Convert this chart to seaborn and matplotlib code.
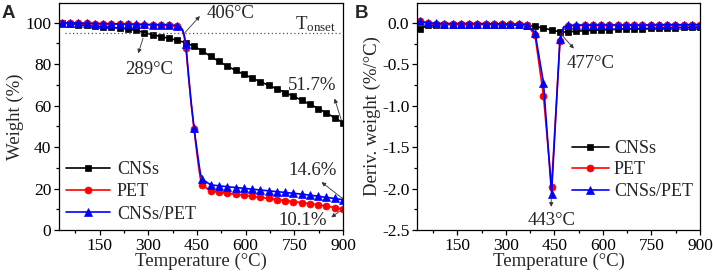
import numpy as np
import pandas as pd
import matplotlib
matplotlib.use("Agg")
import matplotlib.pyplot as plt
from matplotlib.ticker import MultipleLocator
import seaborn as sns

# ---------------- data ----------------
# marker temperatures (°C)
marker_temps = [33, 59, 84, 110, 135, 161, 186, 212, 237, 263, 288, 314, 339, 365,
                390, 416, 441, 467, 492, 518, 543, 569, 594, 620, 645, 671, 696,
                722, 747, 773, 798, 824, 849, 875, 900]

# Panel A: TGA weight (%)
temp_cns_a = marker_temps
weight_cns = [100.0, 99.4, 99.0, 98.7, 98.4, 98.1, 97.8, 97.4, 96.9, 96.3, 95.2,
              94.2, 93.3, 92.4, 91.5, 90.3, 88.6, 86.3, 83.8, 81.3, 79.1, 77.0,
              75.1, 73.3, 71.5, 69.8, 68.1, 66.3, 64.5, 62.6, 60.6, 58.6, 56.4,
              54.1, 51.7]

temp_pet_a = [33, 59, 84, 110, 135, 161, 186, 212, 237, 263, 288, 314, 339, 365,
              390, 400, 406, 411, 416, 424, 432, 441, 449, 456, 461, 467, 492, 518,
              543, 569, 594, 620, 645, 671, 696, 722, 747, 773, 798, 824, 849, 875, 900]
weight_pet = [100.0, 99.9, 99.8, 99.7, 99.6, 99.5, 99.4, 99.3, 99.2, 99.1, 99.0,
              98.9, 98.8, 98.7, 98.4, 97.5, 96.0, 93.0, 87.8, 74.0, 61.0, 48.8,
              38.0, 29.5, 24.5, 21.8, 18.8, 18.2, 17.7, 17.2, 16.7, 16.2, 15.7,
              15.2, 14.7, 14.2, 13.7, 13.2, 12.7, 12.1, 11.5, 10.8, 10.1]
weight_cnspet = [100.0, 99.9, 99.8, 99.7, 99.6, 99.5, 99.5, 99.4, 99.3, 99.3, 99.2,
                 99.1, 99.0, 98.9, 98.6, 97.8, 96.5, 94.0, 89.5, 75.0, 62.0, 49.2,
                 40.0, 32.0, 27.0, 24.4, 21.8, 21.3, 20.9, 20.5, 20.1, 19.7, 19.3,
                 18.9, 18.5, 18.1, 17.7, 17.3, 16.8, 16.3, 15.7, 15.2, 14.6]

# Panel B: DTG (%/°C)
temp_cns_b = marker_temps
dtg_cns = [-0.07, -0.03, -0.025, -0.02, -0.02, -0.02, -0.02, -0.02, -0.02, -0.022,
           -0.025, -0.028, -0.03, -0.033, -0.04, -0.065, -0.085, -0.11, -0.11, -0.10,
           -0.095, -0.09, -0.085, -0.082, -0.078, -0.075, -0.072, -0.069, -0.066,
           -0.063, -0.06, -0.057, -0.054, -0.052, -0.05]

temp_pet_b = [33, 59, 84, 110, 135, 161, 186, 212, 237, 263, 288, 314, 339, 365,
              390, 416, 441, 467, 478, 492, 518, 543, 569, 594, 620, 645, 671, 696,
              722, 747, 773, 798, 824, 849, 875, 900]
dtg_pet = [0.02, -0.005, -0.01, -0.01, -0.01, -0.01, -0.01, -0.01, -0.01, -0.012,
           -0.014, -0.015, -0.017, -0.02, -0.15, -0.88, -1.98, -0.22, -0.06, -0.035,
           -0.032, -0.03, -0.03, -0.03, -0.03, -0.03, -0.03, -0.03, -0.03, -0.03,
           -0.03, -0.03, -0.03, -0.03, -0.03, -0.03]
dtg_cnspet = [0.02, 0.0, -0.005, -0.008, -0.008, -0.008, -0.008, -0.008, -0.01,
              -0.01, -0.012, -0.013, -0.015, -0.02, -0.12, -0.72, -2.06, -0.20, -0.05,
              -0.03, -0.027, -0.025, -0.025, -0.025, -0.025, -0.025, -0.025, -0.025,
              -0.025, -0.025, -0.025, -0.022, -0.022, -0.022, -0.02, -0.02]

series_names = ["CNSs", "PET", "CNSs/PET"]
t_onset = 95

# ---------------- style ----------------
sns.set_style("ticks")
plt.rcParams["font.family"] = ["Liberation Serif", "DejaVu Serif"]
plt.rcParams["mathtext.fontset"] = "custom"
plt.rcParams["mathtext.rm"] = "Liberation Serif"
plt.rcParams["mathtext.it"] = "Liberation Serif:italic"
plt.rcParams["axes.unicode_minus"] = False
plt.rcParams["axes.edgecolor"] = "black"
plt.rcParams["axes.linewidth"] = 0.9
plt.rcParams["xtick.color"] = "black"
plt.rcParams["ytick.color"] = "black"

FS_TICK = 12.5
FS_LAB = 13.5
FS_LEG = 13
FS_ANN = 13.5
colors = ["black", "red", "blue"]
markers = ["s", "o", "^"]
msizes = [4.5, 5.0, 5.5]

fig = plt.figure(figsize=(7.13, 2.74), dpi=100)
axA = fig.add_axes([59 / 713, 1 - 230 / 274, 284 / 713, 227 / 274])
axB = fig.add_axes([417 / 713, 1 - 230 / 274, 283 / 713, 227 / 274])


def mark_idx(temps):
    return [i for i, t in enumerate(temps) if t in marker_temps]


def draw(ax, xs, ys):
    for name, x, y, c, m, ms in zip(series_names, xs, ys, colors, markers, msizes):
        df = pd.DataFrame({"T": x, "v": y})
        sns.lineplot(data=df, x="T", y="v", ax=ax, color=c, marker=m,
                     markersize=ms, markeredgewidth=0.5, markeredgecolor=c,
                     markevery=mark_idx(x), linewidth=1.2, label=name,
                     legend=False, sort=False)


draw(axA, [temp_cns_a, temp_pet_a, temp_pet_a], [weight_cns, weight_pet, weight_cnspet])
draw(axB, [temp_cns_b, temp_pet_b, temp_pet_b], [dtg_cns, dtg_pet, dtg_cnspet])

for ax in (axA, axB):
    ax.set_xlim(25, 900)
    ax.xaxis.set_major_locator(MultipleLocator(150))
    ax.xaxis.set_minor_locator(MultipleLocator(75))
    ax.tick_params(axis="both", which="major", direction="out", length=3.5,
                   width=0.9, labelsize=FS_TICK, pad=2)
    ax.tick_params(axis="both", which="minor", direction="out", length=2,
                   width=0.9)
    ax.set_xlabel("Temperature (\u00b0C)", fontsize=FS_LAB, labelpad=-1)
    for s in ax.spines.values():
        s.set_visible(True)
        s.set_color("black")

axA.set_ylim(0, 109.5)
axA.yaxis.set_major_locator(MultipleLocator(20))
axA.yaxis.set_minor_locator(MultipleLocator(10))
axA.set_ylabel("Weight (%)", fontsize=FS_LAB, labelpad=1)

axB.set_ylim(-2.5, 0.24)
axB.yaxis.set_major_locator(MultipleLocator(0.5))
axB.yaxis.set_minor_locator(MultipleLocator(0.25))
axB.yaxis.set_major_formatter(plt.FormatStrFormatter("%.1f"))
axB.set_ylabel("Deriv. weight (%/\u00b0C)", fontsize=FS_LAB, labelpad=1)

# Tonset line
axA.axhline(t_onset, xmin=(44 - 25) / 875, xmax=1, color="#555555",
            linestyle=(0, (1, 2)), linewidth=0.9)
axA.text(815, 99.5, r"T$_{\rm onset}$", fontsize=FS_ANN, ha="center", va="center")

arrow_kw = dict(arrowstyle="-|>", color="#333333", lw=0.6, mutation_scale=6,
                shrinkA=0, shrinkB=0)


def arrow(ax, tail, head, text, pos):
    ax.annotate("", xy=head, xytext=tail, arrowprops=arrow_kw)
    ax.text(pos[0], pos[1], text, fontsize=FS_ANN, ha="center", va="center")


arrow(axA, (413, 95.2), (459, 103.2), "406\u00b0C", (553, 104.2))
arrow(axA, (284, 92.5), (269, 85.2), "289\u00b0C", (302, 77.2))
arrow(axA, (895, 52.9), (874, 63.4), "51.7%", (805, 69.9))
arrow(axA, (900, 15.0), (834, 23.1), "14.6%", (805, 28.7))
arrow(axA, (900, 10.2), (864, 6.1), "10.1%", (777, 4.5))

arrow(axB, (469, -0.13), (510, -0.31), "477\u00b0C", (563, -0.49))
arrow(axB, (440, -2.08), (440, -2.22), "443\u00b0C", (440, -2.38))

legA = axA.legend(loc="lower left", bbox_to_anchor=(0.0, 0.0), frameon=False,
                  fontsize=FS_LEG, handlelength=2.4, handletextpad=0.4,
                  labelspacing=0.3, borderaxespad=0.2, borderpad=0.2)
legB = axB.legend(loc="center left", bbox_to_anchor=(0.53, 0.265), frameon=False,
                  fontsize=FS_LEG, handlelength=2.0, handletextpad=0.3,
                  labelspacing=0.25, borderaxespad=0.0, borderpad=0.3)

fig.text(2 / 713, 1 - 13 / 274, "A", fontsize=13.5, fontweight="bold",
         family="Liberation Sans", va="center", ha="left")
fig.text(355 / 713, 1 - 13 / 274, "B", fontsize=13.5, fontweight="bold",
         family="Liberation Sans", va="center", ha="left")

fig.savefig("out.png", dpi=100)
